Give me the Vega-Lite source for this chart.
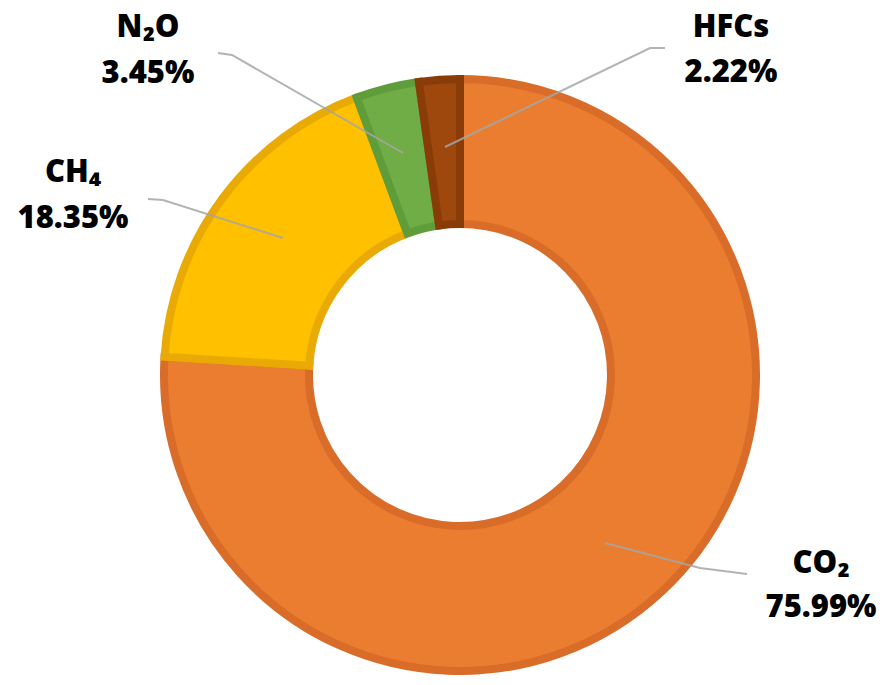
{
  "$schema": "https://vega.github.io/schema/vega-lite/v6.json",
  "width": 844,
  "height": 620,
  "autosize": {"type": "none"},
  "padding": {"left": 38, "top": 65, "right": 0, "bottom": 0},
  "background": "white",
  "config": {"view": {"stroke": null}},
  "datasets": {
    "slices": [
      {"gas": "CO₂", "value": 75.99, "ord": 1, "pct": "75.99%", "lx": 361, "ly": -198, "py": -242},
      {"gas": "CH₄", "value": 18.35, "ord": 2, "pct": "18.35%", "lx": -387, "ly": 193, "py": 147},
      {"gas": "N₂O", "value": 3.45, "ord": 3, "pct": "3.45%", "lx": -312, "ly": 338, "py": 292},
      {"gas": "HFCs", "value": 2.22, "ord": 4, "pct": "2.22%", "lx": 271, "ly": 338, "py": 293}
    ],
    "leaders": [
      {"gas": "N₂O", "pt": 1, "x": -242, "y": 322},
      {"gas": "N₂O", "pt": 2, "x": -228, "y": 320},
      {"gas": "N₂O", "pt": 3, "x": -57, "y": 222},
      {"gas": "CH₄", "pt": 1, "x": -312, "y": 176},
      {"gas": "CH₄", "pt": 2, "x": -297, "y": 175},
      {"gas": "CH₄", "pt": 3, "x": -177, "y": 137},
      {"gas": "HFCs", "pt": 1, "x": 205, "y": 327},
      {"gas": "HFCs", "pt": 2, "x": 190, "y": 327},
      {"gas": "HFCs", "pt": 3, "x": -15, "y": 228},
      {"gas": "CO₂", "pt": 1, "x": 287, "y": -199},
      {"gas": "CO₂", "pt": 2, "x": 240, "y": -193},
      {"gas": "CO₂", "pt": 3, "x": 145, "y": -168}
    ]
  },
  "layer": [
    {
      "data": {"name": "slices"},
      "mark": {"type": "arc", "outerRadius": 296, "innerRadius": 151, "strokeWidth": 8, "strokeJoin": "miter"},
      "encoding": {
        "theta": {"field": "value", "type": "quantitative", "stack": true},
        "order": {"field": "ord", "type": "quantitative"},
        "color": {
          "field": "gas", "type": "nominal", "legend": null,
          "scale": {"domain": ["CO₂", "CH₄", "N₂O", "HFCs"], "range": ["#EB7D30", "#FFC000", "#70AD47", "#9E480E"]}
        },
        "stroke": {
          "field": "gas", "type": "nominal", "legend": null,
          "scale": {"domain": ["CO₂", "CH₄", "N₂O", "HFCs"], "range": ["#D86C28", "#EAAA06", "#5F9C3A", "#8A3C08"]}
        }
      }
    },
    {
      "data": {"name": "leaders"},
      "mark": {"type": "line", "color": "#A6A6A6", "strokeWidth": 2, "opacity": 0.85},
      "encoding": {
        "x": {"field": "x", "type": "quantitative", "scale": {"domain": [-422, 422], "nice": false, "zero": false}, "axis": null},
        "y": {"field": "y", "type": "quantitative", "scale": {"domain": [-310, 310], "nice": false, "zero": false}, "axis": null},
        "detail": {"field": "gas"},
        "order": {"field": "pt", "type": "quantitative"}
      }
    },
    {
      "data": {"name": "slices"},
      "mark": {"type": "text", "font": "Open Sans", "fontWeight": 800, "fontSize": 31, "align": "center", "baseline": "alphabetic", "color": "black"},
      "encoding": {
        "x": {"field": "lx", "type": "quantitative"},
        "y": {"field": "ly", "type": "quantitative"},
        "text": {"field": "gas", "type": "nominal"}
      }
    },
    {
      "data": {"name": "slices"},
      "mark": {"type": "text", "font": "Open Sans", "fontWeight": 800, "fontSize": 31, "align": "center", "baseline": "alphabetic", "color": "black"},
      "encoding": {
        "x": {"field": "lx", "type": "quantitative"},
        "y": {"field": "py", "type": "quantitative"},
        "text": {"field": "pct", "type": "nominal"}
      }
    }
  ]
}
